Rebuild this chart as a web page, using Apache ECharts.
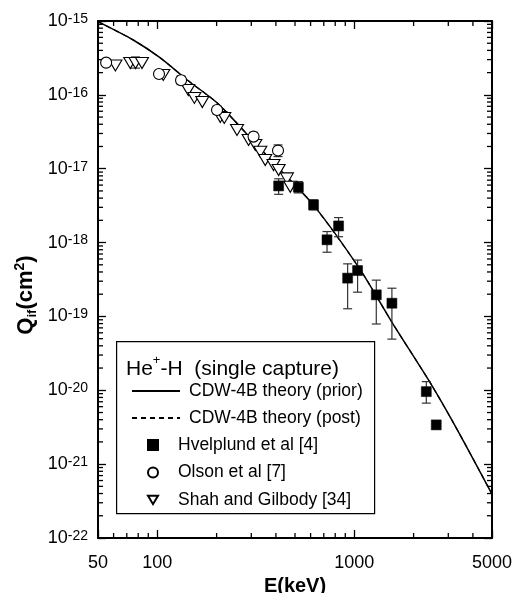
<!DOCTYPE html>
<html>
<head>
<meta charset="utf-8">
<script src="https://cdn.jsdelivr.net/npm/echarts@6/dist/echarts.min.js"></script>
<style>
html, body { margin: 0; padding: 0; background: #fff; }
#chart { width: 527px; height: 593px; }
</style>
</head>
<body>
<div id="chart"></div>
<script>
// He+ - H single capture, energies in keV, cross sections in cm^2
var theoryE     = [50, 75.5, 103.6, 141.9, 201.6, 263.8, 406.5, 619.4, 1073, 1559, 2431, 3333, 5000];
var theoryPrior = [9.8e-16, 5.53e-16, 3.16e-16, 1.59e-16, 7.77e-17, 3.68e-17, 1.06e-17, 3.24e-18, 4.27e-19, 8.19e-20, 1.26e-20, 2.92e-21, 3.93e-22];
// post curve lies on top of the prior one in the figure
var theoryPost  = [9.8e-16, 5.53e-16, 3.16e-16, 1.59e-16, 7.77e-17, 3.68e-17, 1.06e-17, 3.24e-18, 4.27e-19, 8.19e-20, 1.26e-20, 2.92e-21, 3.93e-22];

var hvelE    = [413, 520, 621, 727, 832, 925, 1039, 1293, 1552, 2320, 2606];
var hvelQ    = [5.85e-18, 5.62e-18, 3.24e-18, 1.09e-18, 1.68e-18, 3.3e-19, 4.18e-19, 1.96e-19, 1.51e-19, 9.6e-21, 3.4e-21];
var hvelLow  = [4.5e-18, 4.7e-18, 2.77e-18, 7.4e-19, 1.2e-18, 1.27e-19, 2.13e-19, 7.9e-20, 4.93e-20, 6.7e-21, null];
var hvelHigh = [7.3e-18, 6.7e-18, 3.79e-18, 1.41e-18, 2.18e-18, 5.15e-19, 5.8e-19, 3.1e-19, 2.41e-19, 1.31e-20, null];

var olsonE    = [55, 102, 132, 201, 308, 410];
var olsonQ    = [2.73e-16, 1.92e-16, 1.58e-16, 6.25e-17, 2.72e-17, 1.76e-17];
var olsonLow  = [2.5e-16, 1.78e-16, 1.38e-16, 5.5e-17, 2.4e-17, 1.46e-17];
var olsonHigh = [3.0e-16, 2.08e-16, 1.8e-16, 7.0e-17, 3.1e-17, 2.1e-17];

var shahE = [61.3, 72.9, 77.5, 83.6, 107.3, 143.6, 154.2, 169.2, 208.9, 218.8, 253.9, 290.8, 314.5, 333.4, 353, 389, 413, 455, 473];
var shahQ = [2.5e-16, 2.7e-16, 2.7e-16, 2.7e-16, 1.86e-16, 1.16e-16, 9.1e-17, 8.0e-17, 5.02e-17, 4.87e-17, 3.35e-17, 2.45e-17, 2.1e-17, 1.7e-17, 1.31e-17, 1.12e-17, 9.6e-18, 7.4e-18, 5.7e-18];
var shahErrE = [77.5];
var shahErrLow = [2.3e-16];
var shahErrHigh = [3.26e-16];

// axis ranges and minor ticks
var xMin = 50, xMax = 5000;
var xMinorTicks = [60, 70, 80, 90, 200, 300, 400, 500, 600, 700, 800, 900, 2000, 3000, 4000];
var yMinorMantissa = [2, 3, 4, 5, 6, 7, 8, 9];
var yDecades = [-22, -21, -20, -19, -18, -17, -16];

// the log scale loses values this small, so the y axis works in units of 1e-22 cm^2
var yUnitExp = -22;
function toUnit(q) { return q == null ? null : q * Math.pow(10, -yUnitExp); }
var yLo = 1, yHi = 1e7;   // 1e-22 .. 1e-15 cm^2

var yMinorTicks = [];
yDecades.forEach(function (d) {
    yMinorMantissa.forEach(function (m) { yMinorTicks.push([xMin, m * Math.pow(10, d - yUnitExp)]); });
});

function zip(a, b, c) {
    var out = [];
    for (var i = 0; i < a.length; i++) {
        if (c) {
            if (b[i] != null) out.push([a[i], toUnit(b[i]), toUnit(c[i])]);
        } else {
            out.push([a[i], toUnit(b[i])]);
        }
    }
    return out;
}

var chart = echarts.init(document.getElementById('chart'), null, { renderer: 'canvas' });

var ink = '#000';
var font = 'Liberation Sans, Arial, sans-serif';

function errorBar(params, api) {
    var x = api.value(0);
    var lo = api.coord([x, api.value(1)]);
    var hi = api.coord([x, api.value(2)]);
    var cap = 4.5;
    return {
        type: 'group',
        children: [
            { type: 'line', shape: { x1: lo[0], y1: lo[1], x2: hi[0], y2: hi[1] }, style: { stroke: '#333', lineWidth: 1.2 } },
            { type: 'line', shape: { x1: lo[0] - cap, y1: lo[1], x2: lo[0] + cap, y2: lo[1] }, style: { stroke: '#333', lineWidth: 1.2 } },
            { type: 'line', shape: { x1: hi[0] - cap, y1: hi[1], x2: hi[0] + cap, y2: hi[1] }, style: { stroke: '#333', lineWidth: 1.2 } }
        ]
    };
}

// short inward ticks on bottom and top edges
function xMinorTick(params, api) {
    var v = api.value(0);
    var b = api.coord([v, yLo]);
    var t = api.coord([v, yHi]);
    return {
        type: 'group',
        children: [
            { type: 'line', shape: { x1: b[0], y1: b[1], x2: b[0], y2: b[1] - 5 }, style: { stroke: ink, lineWidth: 1.3 } },
            { type: 'line', shape: { x1: t[0], y1: t[1], x2: t[0], y2: t[1] + 5 }, style: { stroke: ink, lineWidth: 1.3 } }
        ]
    };
}

// short inward ticks on left and right edges
function yMinorTick(params, api) {
    var v = api.value(1);
    var l = api.coord([xMin, v]);
    var r = api.coord([xMax, v]);
    return {
        type: 'group',
        children: [
            { type: 'line', shape: { x1: l[0], y1: l[1], x2: l[0] + 5, y2: l[1] }, style: { stroke: ink, lineWidth: 1.3 } },
            { type: 'line', shape: { x1: r[0], y1: r[1], x2: r[0] - 5, y2: r[1] }, style: { stroke: ink, lineWidth: 1.3 } }
        ]
    };
}

function frameLine() { return { show: true, onZero: false, lineStyle: { color: ink, width: 2 } }; }
function majorTick() { return { show: true, inside: true, length: 8, lineStyle: { color: ink, width: 1.3 } }; }

var option = {
    animation: false,
    textStyle: { fontFamily: font, color: ink },
    grid: { left: 98, right: 35, top: 21, bottom: 55, outerBoundsMode: 'none' },
    xAxis: [
        {
            type: 'log', logBase: 10, min: xMin, max: xMax, position: 'bottom',
            axisLine: frameLine(), axisTick: majorTick(),
            splitLine: { show: false },
            axisLabel: {
                show: true, color: ink, fontSize: 18, fontFamily: font, margin: 16,
                showMinLabel: true, showMaxLabel: true,
                formatter: function (v) { return String(Math.round(v)); }
            },
            name: 'E(keV)', nameLocation: 'middle', nameGap: 30,
            nameTextStyle: { fontSize: 20, fontWeight: 'bold', color: ink, fontFamily: font }
        },
        {
            type: 'log', logBase: 10, min: xMin, max: xMax, position: 'top',
            axisLine: frameLine(), axisTick: majorTick(),
            axisLabel: { show: false }, splitLine: { show: false }
        }
    ],
    yAxis: [
        {
            type: 'log', logBase: 10, min: yLo, max: yHi, position: 'left',
            axisLine: frameLine(), axisTick: majorTick(),
            splitLine: { show: false },
            axisLabel: {
                show: true, margin: 10, color: ink, fontFamily: font,
                showMinLabel: true, showMaxLabel: true,
                formatter: function (v) {
                    return '{b|10}{s|' + (Math.round(Math.log10(v)) + yUnitExp) + '}';
                },
                rich: {
                    b: { fontSize: 18, lineHeight: 18, verticalAlign: 'bottom', color: ink, fontFamily: font, padding: [6, 0, 0, 0] },
                    s: { fontSize: 14, lineHeight: 14, padding: [0, 0, 10, 0], verticalAlign: 'top', color: ink, fontFamily: font }
                }
            }
        },
        {
            type: 'log', logBase: 10, min: yLo, max: yHi, position: 'right',
            axisLine: frameLine(), axisTick: majorTick(),
            axisLabel: { show: false }, splitLine: { show: false }
        }
    ],
    legend: [
        {
            orient: 'vertical', left: 131, top: 382, padding: 0,
            itemWidth: 48, itemHeight: 12, itemGap: 9,
            data: ['CDW-4B theory (prior)', 'CDW-4B theory (post)'],
            itemStyle: { opacity: 0 },
            textStyle: { fontSize: 17.5, color: ink, fontFamily: font, lineHeight: 18, padding: [0, 0, 0, 4] },
            selectedMode: false
        },
        {
            orient: 'vertical', left: 147, top: 436, padding: 0,
            itemWidth: 10, itemHeight: 10, itemGap: 9.5,
            data: [
                'Hvelplund et al [4]',
                'Olson et al [7]',
                { name: 'Shah and Gilbody [34]', icon: 'path://M0,0L12,0L6,10Z' }
            ],
            textStyle: { fontSize: 17.5, color: ink, fontFamily: font, lineHeight: 18, padding: [0, 0, 0, 15] },
            selectedMode: false
        }
    ],
    graphic: [
        {
            type: 'rect', left: 116, top: 341, z: 50,
            shape: { width: 258, height: 172 },
            style: { fill: 'rgba(0,0,0,0)', stroke: ink, lineWidth: 1.2 }
        },
        {
            type: 'text', left: 126, top: 354, z: 50,
            style: {
                text: '{t|He}{p|+}{t|-H  (single capture)}',
                rich: {
                    t: { fontSize: 21, lineHeight: 26, verticalAlign: 'bottom', fontFamily: font, fill: ink },
                    p: { fontSize: 13, lineHeight: 13, padding: [0, 0, 13, 0], verticalAlign: 'top', fontFamily: font, fill: ink }
                }
            }
        },
        {
            type: 'text', x: 26, y: 295, rotation: Math.PI / 2, z: 50,
            style: {
                text: '{q|Q}{d|if}{q|(cm}{u|2}{q|)}',
                align: 'center', verticalAlign: 'middle',
                rich: {
                    q: { fontSize: 22, fontWeight: 'bold', lineHeight: 26, verticalAlign: 'middle', fontFamily: font, fill: ink },
                    d: { fontSize: 13, fontWeight: 'bold', lineHeight: 13, padding: [13, 0, 0, 0], verticalAlign: 'bottom', fontFamily: font, fill: ink },
                    u: { fontSize: 14, fontWeight: 'bold', lineHeight: 14, padding: [0, 0, 14, 0], verticalAlign: 'top', fontFamily: font, fill: ink }
                }
            }
        }
    ],
    series: [
        {
            type: 'custom', name: 'xMinor', silent: true, z: 1, clip: false,
            renderItem: xMinorTick, encode: { x: 0, y: 1 },
            data: xMinorTicks.map(function (v) { return [v, yHi]; })
        },
        {
            type: 'custom', name: 'yMinor', silent: true, z: 1, clip: false,
            renderItem: yMinorTick, encode: { x: 0, y: 1 },
            data: yMinorTicks
        },
        {
            name: 'CDW-4B theory (prior)', type: 'line', symbol: 'none', smooth: 0.25, z: 3,
            lineStyle: { color: ink, width: 1.5, type: 'solid' },
            itemStyle: { color: ink },
            data: zip(theoryE, theoryPrior)
        },
        {
            name: 'CDW-4B theory (post)', type: 'line', symbol: 'none', smooth: 0.25, z: 2,
            lineStyle: { color: ink, width: 1.2, type: [5, 4] },
            itemStyle: { color: ink },
            data: zip(theoryE, theoryPost)
        },
        {
            type: 'custom', name: 'hvelErr', silent: true, z: 4,
            renderItem: errorBar, encode: { x: 0, y: [1, 2] },
            data: zip(hvelE, hvelLow, hvelHigh)
        },
        {
            type: 'custom', name: 'olsonErr', silent: true, z: 4,
            renderItem: errorBar, encode: { x: 0, y: [1, 2] },
            data: zip(olsonE, olsonLow, olsonHigh)
        },
        {
            type: 'custom', name: 'shahErr', silent: true, z: 4,
            renderItem: errorBar, encode: { x: 0, y: [1, 2] },
            data: zip(shahErrE, shahErrLow, shahErrHigh)
        },
        {
            name: 'Shah and Gilbody [34]', type: 'scatter', z: 5,
            symbol: 'triangle', symbolRotate: 180, symbolSize: [13, 11],
            itemStyle: { color: '#fff', borderColor: ink, borderWidth: 1.1, opacity: 1 },
            data: zip(shahE, shahQ)
        },
        {
            name: 'Olson et al [7]', type: 'scatter', z: 6,
            symbol: 'circle', symbolSize: 11,
            itemStyle: { color: '#fff', borderColor: ink, borderWidth: 1.1, opacity: 1 },
            data: zip(olsonE, olsonQ)
        },
        {
            name: 'Hvelplund et al [4]', type: 'scatter', z: 7,
            symbol: 'rect', symbolSize: 10,
            itemStyle: { color: ink, borderColor: ink, borderWidth: 0.5, opacity: 1 },
            data: zip(hvelE, hvelQ)
        }
    ]
};

chart.setOption(option);
</script>
</body>
</html>
